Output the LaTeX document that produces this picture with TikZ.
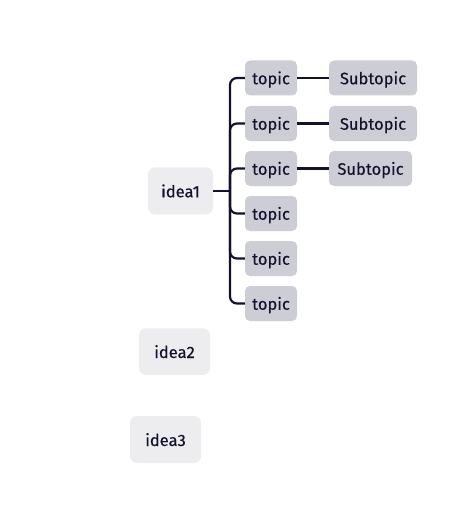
\documentclass[tikz,border=0pt]{standalone}
\usepackage{fontspec}
\setmainfont{Fira Sans}[UprightFeatures={FakeBold=0.35}]
\definecolor{ink}{HTML}{12122E}
\definecolor{ideafill}{HTML}{EDECEF}
\definecolor{topicfill}{HTML}{CDCDD5}
\begin{document}
\begin{tikzpicture}[x=1pt,y=-1pt,
  box/.style={rounded corners=5pt, inner sep=0pt, text=ink, font=\fontsize{16.5}{18}\selectfont, anchor=center, text height=12.5pt, text depth=0pt},
  idea/.style={box, fill=ideafill, rounded corners=7pt, minimum width=65pt, minimum height=47pt, text height=13pt},
  topic/.style={box, fill=topicfill, minimum width=52pt, minimum height=35pt},
  sub/.style={box, fill=topicfill, minimum height=35pt},
  link/.style={draw=ink, line width=2.2pt}]
\useasboundingbox (0,0) rectangle (467,532);
\fill[white] (0,0) rectangle (467,532);
\node[idea] (i1) at (180.5,190.8) {idea1};
\node[idea, minimum width=71pt, minimum height=46.5pt] (i2) at (174.5,351.5) {idea2};
\node[idea, minimum width=71pt, minimum height=47pt] (i3) at (165.5,439.5) {idea3};
\node[topic] (t1) at (271,78) {topic};
\node[topic] (t2) at (271,123.5) {topic};
\node[topic] (t3) at (271,168.5) {topic};
\node[topic] (t4) at (271,213.5) {topic};
\node[topic] (t5) at (271,258.5) {topic};
\node[topic] (t6) at (271,303.5) {topic};
\node[sub, minimum width=88pt] (s1) at (373,78) {Subtopic};
\node[sub, minimum width=88pt] (s2) at (373,123.5) {Subtopic};
\node[sub, minimum width=83pt] (s3) at (370.5,168.5) {Subtopic};
\coordinate (bus) at (230,190.8);
\draw[link] (i1.east) -- (bus);
\foreach \t in {t1,t2,t3,t4,t5,t6}{
  \draw[link, rounded corners=7pt] (bus) |- (\t.west);
}
\draw[link] (t1.east) -- (s1.west);
\draw[link] (t2.east) -- (s2.west);
\draw[link] (t3.east) -- (s3.west);
\end{tikzpicture}
\end{document}
